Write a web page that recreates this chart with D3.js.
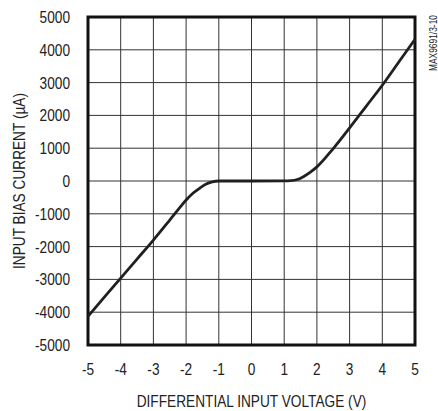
<!DOCTYPE html>
<html>
<head>
<meta charset="utf-8">
<script src="https://cdn.jsdelivr.net/npm/d3@7"></script>
<style>
  body { margin: 0; background: #fff; }
  text { font-family: "Liberation Sans", Arial, sans-serif; fill: #222; }
</style>
</head>
<body>
<svg width="438" height="411"></svg>
<script>
// differential input voltage (V) and input bias current (uA)
var voltage = [-5, -4.5, -4, -3.5, -3, -2.5, -2.2, -2, -1.8, -1.6, -1.4, -1.2, -1, 0, 1, 1.2, 1.4, 1.6, 1.8, 2, 2.5, 3, 3.5, 4, 4.5, 5];
var current = [-4130, -3540, -2960, -2380, -1800, -1190, -820, -580, -380, -230, -100, -25, 0, 0, 3, 10, 45, 140, 270, 430, 990, 1620, 2270, 2920, 3620, 4320];

var xTicks = [-5, -4, -3, -2, -1, 0, 1, 2, 3, 4, 5];
var yTicks = [-5000, -4000, -3000, -2000, -1000, 0, 1000, 2000, 3000, 4000, 5000];

var svg = d3.select('svg');

var pLeft = 88, pRight = 415, pTop = 17, pBottom = 345;
var squeeze = 0.855; // narrow face imitation

var scaleX = d3.scaleLinear().domain([-5, 5]).range([pLeft, pRight]);
var scaleY = d3.scaleLinear().domain([-5000, 5000]).range([pBottom, pTop]);

function narrow(x, y) {
    return 'translate(' + x + ',' + y + ') scale(' + squeeze + ',1)';
}

// grid
svg.append('g')
    .selectAll('line')
    .data(xTicks)
    .enter()
    .append('line')
    .attr('x1', function(d) { return scaleX(d); })
    .attr('x2', function(d) { return scaleX(d); })
    .attr('y1', pTop)
    .attr('y2', pBottom)
    .attr('stroke', '#333')
    .attr('stroke-width', 1);

svg.append('g')
    .selectAll('line')
    .data(yTicks)
    .enter()
    .append('line')
    .attr('x1', pLeft)
    .attr('x2', pRight)
    .attr('y1', function(d) { return scaleY(d); })
    .attr('y2', function(d) { return scaleY(d); })
    .attr('stroke', '#333')
    .attr('stroke-width', 1);

// tick labels
svg.append('g')
    .selectAll('text')
    .data(xTicks)
    .enter()
    .append('text')
    .attr('transform', function(d) { return narrow(scaleX(d), 375); })
    .attr('text-anchor', 'middle')
    .attr('font-size', 16)
    .text(function(d) { return String(d); });

svg.append('g')
    .selectAll('text')
    .data(yTicks)
    .enter()
    .append('text')
    .attr('transform', function(d) { return narrow(70, scaleY(d) + 6); })
    .attr('text-anchor', 'end')
    .attr('font-size', 16)
    .text(function(d) { return String(d); });

// frame
svg.append('rect')
    .attr('x', pLeft)
    .attr('y', pTop)
    .attr('width', pRight - pLeft)
    .attr('height', pBottom - pTop)
    .attr('fill', 'none')
    .attr('stroke', '#111')
    .attr('stroke-width', 3);

// curve
var line = d3.line()
    .x(function(d, i) { return scaleX(voltage[i]); })
    .y(function(d) { return scaleY(d); })
    .curve(d3.curveMonotoneX);

svg.append('path')
    .datum(current)
    .attr('d', line)
    .attr('fill', 'none')
    .attr('stroke', '#231f20')
    .attr('stroke-width', 2.8);

// titles
svg.append('text')
    .attr('transform', narrow((pLeft + pRight) / 2, 407))
    .attr('text-anchor', 'middle')
    .attr('font-size', 16)
    .text('DIFFERENTIAL INPUT VOLTAGE (V)');

svg.append('text')
    .attr('transform', 'translate(25,' + ((pTop + pBottom) / 2) + ') rotate(-90) scale(' + squeeze + ',1)')
    .attr('text-anchor', 'middle')
    .attr('font-size', 16)
    .text('INPUT BIAS CURRENT (\u00b5A)');

svg.append('text')
    .attr('transform', 'translate(437,15) rotate(-90) scale(0.8,1)')
    .attr('text-anchor', 'end')
    .attr('font-size', 10.5)
    .text('MAX9691/3-10');
</script>
</body>
</html>
